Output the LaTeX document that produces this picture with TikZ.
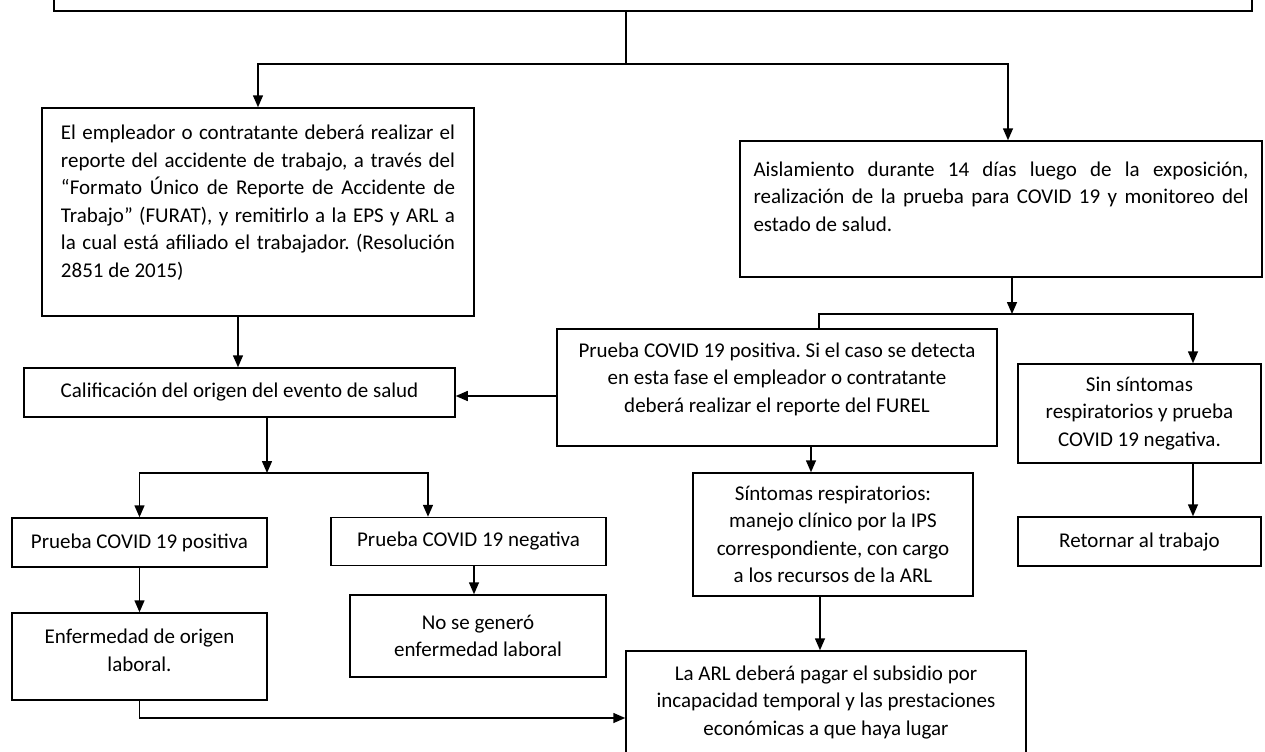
\documentclass[tikz,border=0pt]{standalone}
\usepackage{fontspec}
\setmainfont{Carlito}
\usepackage{tikz}
\usetikzlibrary{arrows.meta, positioning}

\hyphenpenalty=10000
\exhyphenpenalty=10000
\frenchspacing
\newcommand{\margenb}[1]{\rule[-#1]{0pt}{#1}}

\tikzset{
	caja/.style={draw, line width=0.75pt, inner sep=0pt, align=center,
		font={\fontsize{10.5pt}{13.75pt}\selectfont}},
	cajajust/.style={caja, align=justify},
	flecha/.style={line width=0.75pt, -{Triangle[width=5pt,length=6pt]}},
	linea/.style={line width=0.75pt}
}

\begin{document}
\begin{tikzpicture}[x=0.5pt, y=-0.5pt]
	\useasboundingbox (0,0) rectangle (1265,751);

	% cajas
	\node[caja, minimum width=599pt, minimum height=25.5pt] (inicio) at (653,-14.5) {};
	\node[cajajust, text width=197pt, minimum width=216pt, minimum height=104pt] (reporte) at (258,212)
		{El empleador o contratante deberá realizar el reporte del accidente de trabajo, a través del “Formato Único de Reporte de Accidente de Trabajo” (FURAT), y remitirlo a la EPS y ARL a la cual está afiliado el trabajador. (Resolución 2851 de 2015)\margenb{10.6pt}};
	\node[cajajust, text width=247.5pt, minimum width=261pt, minimum height=68pt] (aisla) at (1001,209)
		{Aislamiento durante 14 días luego de la exposición, realización de la prueba para COVID 19 y monitoreo del estado de salud.\margenb{12.5pt}};
	\node[caja, minimum width=215.5pt, minimum height=24.5pt] (calif) at (239.5,392.5)
		{Calificación del origen del evento de salud};
	\node[caja, minimum width=220pt, minimum height=58.5pt] (posR) at (777,387.5)
		{Prueba COVID 19 positiva. Si el caso se detecta\\en esta fase el empleador o contratante\\deberá realizar el reporte del FUREL\margenb{10pt}};
	\node[caja, minimum width=121.5pt, minimum height=49.5pt] (sinsint) at (1139.5,413.5)
		{Sin síntomas\\respiratorios y prueba\\COVID 19 negativa.};
	\node[caja, minimum width=121.5pt, minimum height=24.5pt] (retorno) at (1139.5,541.5)
		{Retornar al trabajo};
	\node[caja, minimum width=140pt, minimum height=61.5pt] (sintomas) at (833,534.5)
		{Síntomas respiratorios:\\manejo clínico por la IPS\\correspondiente, con cargo\\a los recursos de la ARL};
	\node[caja, minimum width=200pt, minimum height=51.5pt] (arl) at (826,702.5)
		{La ARL deberá pagar el subsidio por\\incapacidad temporal y las prestaciones\\económicas a que haya lugar};
	\node[caja, minimum width=127.5pt, minimum height=24.5pt] (posL) at (139.5,542.5)
		{Prueba COVID 19 positiva};
	\node[caja, minimum width=137.5pt, minimum height=24pt] (negL) at (468.5,541.5)
		{Prueba COVID 19 negativa};
	\node[caja, minimum width=127.5pt, minimum height=43.5pt] (enf) at (139.5,656.5)
		{Enfermedad de origen\\laboral.\margenb{6.5pt}};
	\node[caja, minimum width=128pt, minimum height=41pt] (nose) at (478,636)
		{No se generó\\enfermedad laboral};

	% puntos de union
	\coordinate (j1) at (626,64);
	\coordinate (r1) at (1008,64);
	\coordinate (j2) at (1012,314);
	\coordinate (l2) at (819,314);
	\coordinate (r2) at (1193,314);
	\coordinate (j3) at (267,473);
	\coordinate (n3) at (428,473);
	\coordinate (c1) at (557,396);
	\coordinate (c2) at (811,0);
	\coordinate (c3) at (820,0);
	\coordinate (c4) at (238,0);
	\coordinate (c5) at (474,0);
	\coordinate (c6) at (0,718);

	% conectores
	\draw[linea] (inicio.south -| j1) -- (j1);
	\draw[flecha] (j1) -| (reporte.north);
	\draw[flecha] (j1) -- (r1) -- (r1 |- aisla.north);
	\draw[flecha] (aisla.south -| j2) -- (j2);
	\draw[linea] (j2) -- (l2) -- (l2 |- posR.north);
	\draw[flecha] (j2) -- (r2) -- (r2 |- sinsint.north);
	\draw[flecha] (r2 |- sinsint.south) -- (r2 |- retorno.north);
	\draw[flecha] (posR.west |- c1) -- (calif.east |- c1);
	\draw[flecha] (posR.south -| c2) -- (sintomas.north -| c2);
	\draw[flecha] (sintomas.south -| c3) -- (arl.north -| c3);
	\draw[flecha] (reporte.south -| c4) -- (calif.north -| c4);
	\draw[flecha] (calif.south -| j3) -- (j3);
	\draw[flecha] (j3) -| (posL.north);
	\draw[flecha] (j3) -- (n3) -- (n3 |- negL.north);
	\draw[flecha] (negL.south -| c5) -- (nose.north -| c5);
	\draw[flecha] (posL.south) -- (enf.north);
	\draw[flecha] (enf.south) |- (arl.west |- c6);
\end{tikzpicture}
\end{document}
